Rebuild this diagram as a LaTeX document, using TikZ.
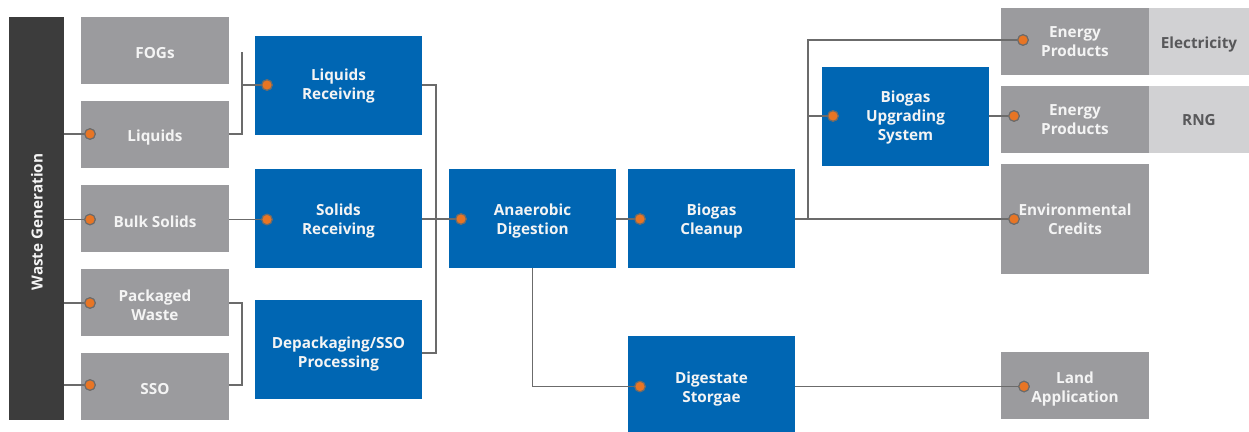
\documentclass[tikz,border=0pt]{standalone}
\usepackage{fontspec}
\setmainfont{Open Sans}
\definecolor{bblue}{HTML}{0066B3}
\definecolor{bgray}{HTML}{9B9B9E}
\definecolor{lgray}{HTML}{D1D1D3}
\definecolor{dbar}{HTML}{3C3C3C}
\definecolor{dorange}{HTML}{E87524}
\definecolor{lgline}{HTML}{6B6B6B}
\definecolor{wtext}{HTML}{F4F4F4}
\definecolor{dtext}{HTML}{58585A}
\newcommand\tx[2][3]{\raisebox{-#1pt}[\height][\depth]{\begin{tabular}{@{}c@{}}#2\end{tabular}}}
\begin{document}
\begin{tikzpicture}[x=1pt,y=-1pt,
  lab/.style={font=\fontsize{15.3}{19}\selectfont\bfseries, inner sep=0pt},
  gbox/.style={lab, fill=bgray, text=wtext, minimum width=148pt, minimum height=67pt},
  bbox/.style={lab, fill=bblue, text=wtext, minimum width=167pt, minimum height=99pt},
  lbox/.style={lab, fill=lgray, text=dtext, minimum width=100pt, minimum height=67pt},
  conn/.style={draw=lgline, line width=1.6pt},
  dot/.style={circle, fill=dorange, draw=lgline, line width=1.1pt, minimum size=10.5pt, inner sep=0pt}]
\useasboundingbox (0,0) rectangle (1249,431);
\begin{scope}
\clip (0,0) rectangle (1249,431);
% left bar
\node[lab, fill=dbar, text=wtext, minimum width=55pt, minimum height=403pt] (wg) at (36.5,218.5) {};
\node[lab, text=wtext, rotate=90] (wgt) at (37,222) {Waste Generation};
% sources
\node[gbox] (fog)  at (155,50.5)  {\tx[4]{FOGs}};
\node[gbox] (liq)  at (155,134.5) {\tx{Liquids}};
\node[gbox] (bulk) at (155,218.5) {\tx[5]{Bulk Solids}};
\node[gbox] (pack) at (155,302.5) {\tx[5]{Packaged\\Waste}};
\node[gbox] (sso)  at (155,386.5) {\tx[4]{SSO}};
% processing
\node[bbox] (lr) at (338.5,85.5)  {\tx[1]{Liquids\\Receiving}};
\node[bbox] (sr) at (338.5,218.5) {\tx{Solids\\Receiving}};
\node[bbox] (dp) at (338.5,349.5) {\tx[5]{Depackaging/SSO\\Processing}};
\node[bbox] (ad) at (532.5,218.5) {\tx{Anaerobic\\Digestion}};
\node[bbox] (bc) at (711.5,218.5) {\tx{Biogas\\Cleanup}};
\node[bbox] (ds) at (711.5,385.5) {\tx[4]{Digestate\\Storgae}};
\node[bbox] (bu) at (905.5,116.5) {\tx[1]{Biogas\\Upgrading\\System}};
% outputs
\node[gbox] (ep1) at (1075,41.5)  {\tx[2]{Energy\\Products}};
\node[lbox] (el)  at (1199,41.5)  {\tx[3]{Electricity}};
\node[gbox] (ep2) at (1075,119.5) {\tx[2]{Energy\\Products}};
\node[lbox] (rng) at (1199,119.5) {\tx[2]{RNG}};
\node[gbox, minimum height=110pt] (ec) at (1075,219) {\tx[2]{Environmental\\Credits}};
\node[gbox] (la) at (1075,385.5) {\tx[4]{Land\\Application}};
% dots
\node[dot] (dliq)  at (90,134) {};
\node[dot] (dbulk) at (90,219.5) {};
\node[dot] (dpack) at (90,303) {};
\node[dot] (dsso)  at (90,385) {};
\node[dot] (dlr) at (267,85) {};
\node[dot] (dsr) at (267,219.5) {};
\node[dot] (dad) at (461,219) {};
\node[dot] (dbc) at (640,219) {};
\node[dot] (dds) at (640,386.5) {};
\node[dot] (dbu) at (833,116) {};
\node[dot] (dep1) at (1023,40) {};
\node[dot] (dep2) at (1014,116) {};
\node[dot] (dec) at (1014,219) {};
\node[dot] (dla) at (1024,386.5) {};
% junctions
\coordinate (j1) at (242,52);
\coordinate (j2) at (436,85);
\coordinate (t) at (808,219);
% connectors
\draw[conn] (wg.east |- dliq) -- (dliq.west);
\draw[conn] (wg.east |- dbulk) -- (dbulk.west);
\draw[conn] (wg.east |- dpack) -- (dpack.west);
\draw[conn] (wg.east |- dsso) -- (dsso.west);
\draw[conn] (liq.east |- dliq) -| (j1);
\draw[conn] (j1 |- dlr) -- (dlr.west);
\draw[conn] (bulk.east |- dbulk) -- (dsr.west);
\draw[conn] (pack.east |- dpack) -| (j1 |- dsso) -- (sso.east |- dsso);
\draw[conn] (lr.east |- j2) -- (j2) |- ([yshift=-3.5pt]dp.east);
\draw[conn] (sr.east |- dad) -- (dad.west);
\draw[conn] (ad.east |- dbc) -- (dbc.west);
\draw[conn] (ad.south) |- (dds.west);
\draw[conn] (bc.east |- dec) -- (dec.west);
\draw[conn] (t) |- (dep1.west);
\draw[conn] (t |- dbu) -- (dbu.west);
\draw[conn] (bu.east |- dep2) -- (dep2.west);
\draw[conn] (ds.east |- dla) -- (dla.west);
% redraw dots on top
\foreach \d in {dliq,dbulk,dpack,dsso,dlr,dsr,dad,dbc,dds,dbu,dep1,dep2,dec,dla}
  \node[dot] at (\d) {};
\end{scope}
\end{tikzpicture}
\end{document}
